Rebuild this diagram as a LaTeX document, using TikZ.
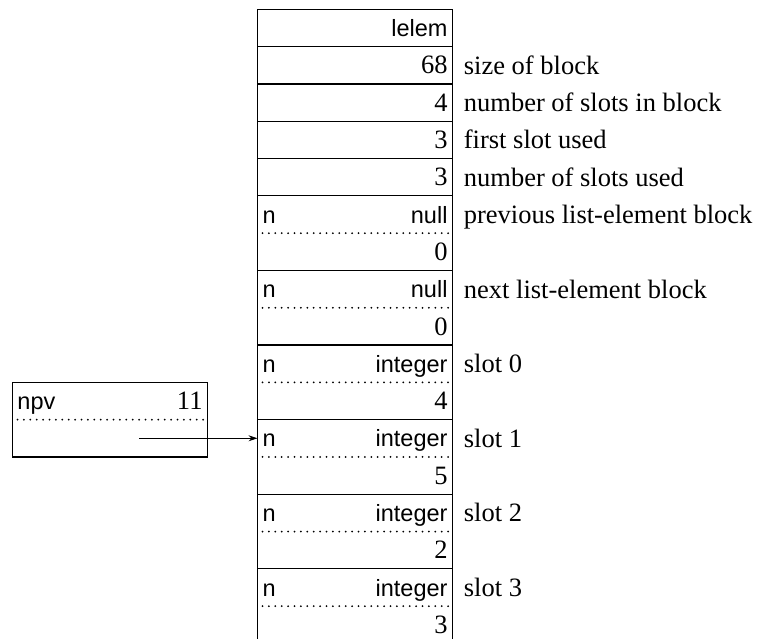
\documentclass[tikz,border=0pt]{standalone}
\usepackage{fontspec}
\setmainfont{Liberation Serif}
\setsansfont{Liberation Sans}
\usetikzlibrary{positioning,arrows.meta}
\newcommand{\valfont}{\rmfamily\fontsize{13.25}{15}\selectfont}
\newcommand{\tagfont}{\sffamily\fontsize{11.75}{14}\selectfont}

\begin{document}
\begin{tikzpicture}[x=0.5pt, y=-0.5pt, font=\valfont,
    cell/.style={draw, line width=0.6pt, outer sep=0pt, inner sep=0pt,
                 minimum width=97.5pt, minimum height=18.65pt,
                 text width=92.5pt, align=right, text height=8.6pt, text depth=0pt},
    half/.style={cell, draw=none},
    tag/.style={font=\tagfont},
    note/.style={inner sep=0pt, text height=9pt, text depth=0pt},
    dots/.style={line width=1pt, line cap=round, dash pattern=on 0pt off 3.2pt,
                 shorten >=2pt, shorten <=2.5pt},
    ptr/.style={line width=0.5pt, -{Stealth[length=4.5pt, width=3pt]}}]
  \useasboundingbox (0,0) rectangle (759,638);
  \clip (0,0) rectangle (759,638);
  % block header
  \node[cell, tag] (lelem) at (355,28) {lelem};
  \node[cell, below=0pt of lelem] (size) {68};
  \node[cell, below=0pt of size] (slots) {4};
  \node[cell, below=0pt of slots] (first) {3};
  \node[cell, below=0pt of first] (used) {3};
  % links and slots: type on top, value below
  \node[half, tag, below=0pt of used] (prev) {n\hfill null};
  \node[half, below=0pt of prev] (prevv) {0};
  \node[half, tag, below=0pt of prevv] (next) {n\hfill null};
  \node[half, below=0pt of next] (nextv) {0};
  \node[half, tag, below=0pt of nextv] (slot0) {n\hfill integer};
  \node[half, below=0pt of slot0] (slot0v) {4};
  \node[half, tag, below=0pt of slot0v] (slot1) {n\hfill integer};
  \node[half, below=0pt of slot1] (slot1v) {5};
  \node[half, tag, below=0pt of slot1v] (slot2) {n\hfill integer};
  \node[half, below=0pt of slot2] (slot2v) {2};
  \node[half, tag, below=0pt of slot2v] (slot3) {n\hfill integer};
  \node[half, below=0pt of slot3] (slot3v) {3};
  % the variable
  \node[half, tag] (npv) at (110,401) {npv\hfill{\valfont 11}};
  \node[half, below=0pt of npv] (npvv) {};
  \foreach \a/\b in {prev/prevv, next/nextv, slot0/slot0v, slot1/slot1v,
                     slot2/slot2v, slot3/slot3v, npv/npvv} {
    \draw[line width=0.6pt] (\a.north west) rectangle (\b.south east);
    \draw[dots] (\a.south west) -- (\a.south east);
  }
  % notes
  \node[note, right=5.5pt of size] {size of block};
  \node[note, right=5.5pt of slots] {number of slots in block};
  \node[note, right=5.5pt of first] {first slot used};
  \node[note, right=5.5pt of used] {number of slots used};
  \node[note, right=5.5pt of prev] {previous list-element block};
  \node[note, right=5.5pt of next] {next list-element block};
  \node[note, right=5.5pt of slot0] {slot 0};
  \node[note, right=5.5pt of slot1] {slot 1};
  \node[note, right=5.5pt of slot2] {slot 2};
  \node[note, right=5.5pt of slot3] {slot 3};
  % pointer
  \coordinate (npvp) at ([xshift=14.5pt]npvv.center);
  \draw[ptr] (npvp) -- (npvp -| slot1.west);
\end{tikzpicture}
\end{document}
